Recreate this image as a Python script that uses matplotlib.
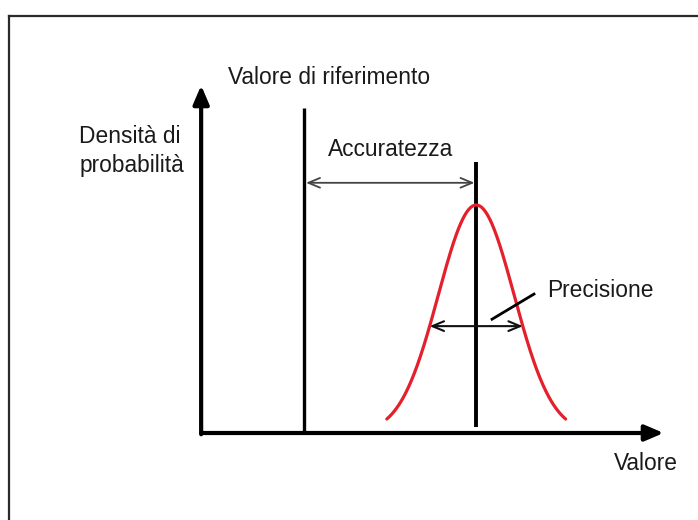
import numpy as np
import matplotlib
matplotlib.use("Agg")
import matplotlib.pyplot as plt
from matplotlib.lines import Line2D

plt.rcParams['font.family'] = ['Liberation Sans', 'DejaVu Sans']

# diagram values (arbitrary "Valore" units)
ref_value = 3.0          # valore di riferimento
mean_value = 8.0         # media delle misure
sigma = 1.1              # dispersione
curve_halfspan = 2.6     # extent of the drawn gaussian
x_axis_end = 13.45
y_axis_end = 0.553
ref_line_top = 0.517
mean_line = [0.01, 0.431]
accuracy_y = 0.398
precision_y = 0.170
leader_x = [8.46, 9.68]
leader_y = [0.181, 0.221]

labels = {
    'ref': 'Valore di riferimento',
    'acc': 'Accuratezza',
    'prec': 'Precisione',
    'xlab': 'Valore',
    'ylab': 'Densità di\nprobabilità',
}

fig = plt.figure(figsize=(6.98, 5.20), dpi=100)
ax = fig.add_axes([0, 0, 1, 1])
ax.set_xlim(-5.85, 14.45)
ax.set_ylim(-0.1384, 0.6888)
ax.axis('off')

# outer frame (cropped on right/bottom)
fig.add_artist(Line2D([9 / 698, 9 / 698], [0, 1 - 16 / 520], color='#2a2a2a', lw=1.6,
                      transform=fig.transFigure))
fig.add_artist(Line2D([9 / 698, 1], [1 - 16 / 520, 1 - 16 / 520], color='#2a2a2a', lw=1.6,
                      transform=fig.transFigure))

axis_arrow = dict(arrowstyle='-|>,head_length=0.7,head_width=0.3', lw=3, color='black',
                  mutation_scale=16, shrinkA=0, shrinkB=0)
ax.annotate('', xy=(x_axis_end, 0), xytext=(0, 0), arrowprops=axis_arrow)
ax.annotate('', xy=(0, y_axis_end), xytext=(0, -0.002), arrowprops=axis_arrow)

# reference and mean lines
ax.plot([ref_value, ref_value], [0, ref_line_top], color='black', lw=2.4, solid_capstyle='butt')
ax.plot([mean_value, mean_value], mean_line, color='black', lw=2.8, solid_capstyle='butt')

# gaussian
x = np.linspace(mean_value - curve_halfspan, mean_value + curve_halfspan, 300)
pdf = np.exp(-0.5 * ((x - mean_value) / sigma) ** 2) / (sigma * np.sqrt(2 * np.pi))
ax.plot(x, pdf, color='#e3202b', lw=2.3, solid_capstyle='round')

# accuracy arrow
ax.annotate('', xy=(mean_value - 0.05, accuracy_y), xytext=(ref_value + 0.05, accuracy_y),
            arrowprops=dict(arrowstyle='<->,head_length=0.6,head_width=0.25', lw=1.3,
                            color='#444444', mutation_scale=14, shrinkA=0, shrinkB=0))

# precision arrow spans the curve at precision_y
peak = 1 / (sigma * np.sqrt(2 * np.pi))
half = sigma * np.sqrt(2 * np.log(peak / precision_y))
ax.annotate('', xy=(mean_value + half, precision_y), xytext=(mean_value - half, precision_y),
            arrowprops=dict(arrowstyle='<->,head_length=0.6,head_width=0.25', lw=1.5,
                            color='#111111', mutation_scale=14, shrinkA=0, shrinkB=0))
ax.plot(leader_x, leader_y, color='black', lw=2)

fs = 16.4
txt = '#1a1a1a'
ax.text(0.78, 0.566, labels['ref'], fontsize=fs, color=txt, va='center', ha='left')
ax.text(5.5, 0.451, labels['acc'], fontsize=fs, color=txt, va='center', ha='center')
ax.text(10.05, 0.227, labels['prec'], fontsize=fs, color=txt, va='center', ha='left')
ax.text(12.0, -0.049, labels['xlab'], fontsize=fs, color=txt, va='center', ha='left')
ax.text(-3.55, 0.449, labels['ylab'], fontsize=fs, color=txt, va='center', ha='left',
        linespacing=1.35)

fig.savefig('out.png', dpi=100)
